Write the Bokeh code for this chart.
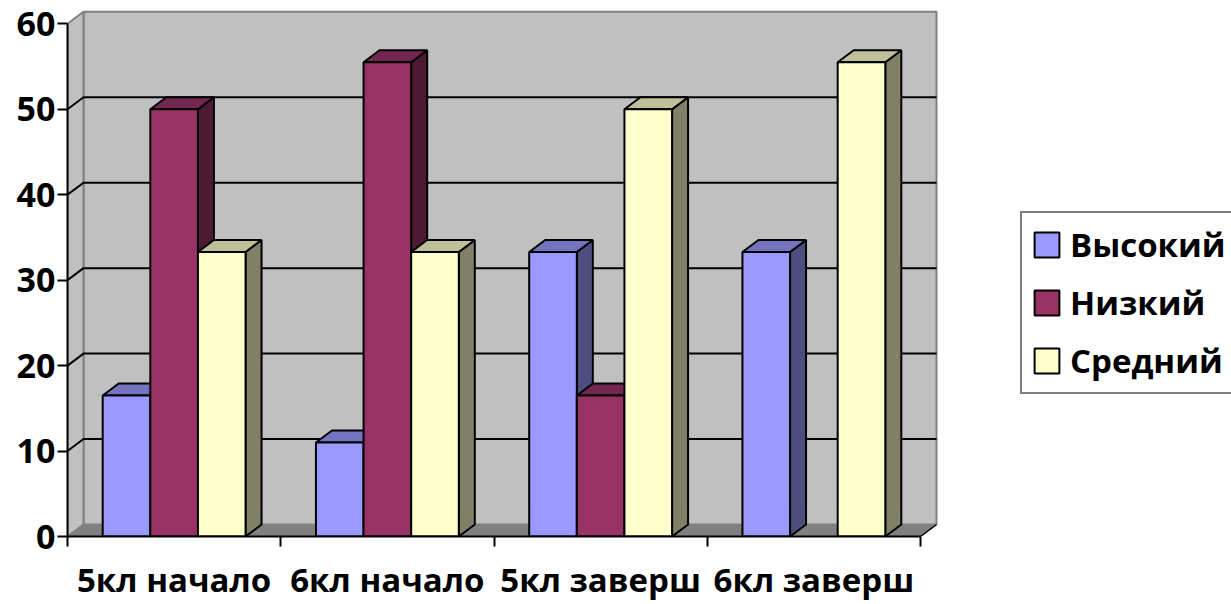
from bokeh.plotting import figure
from bokeh.embed import file_html
from bokeh.resources import INLINE
from bokeh.models import FixedTicker, Legend, LegendItem, Range1d

categories = ["5кл начало", "6кл начало", "5кл заверш", "6кл заверш"]
series_names = ["Высокий", "Низкий", "Средний"]
vysokiy = [16.5, 11, 33.3, 33.3]
nizkiy = [50, 55.5, 16.5, 0]
sredniy = [33.3, 33.3, 50, 55.5]
y_ticks = [0, 10, 20, 30, 40, 50, 60]

front_colors = ["#9999FF", "#993366", "#FFFFCC"]
top_colors = ["#7373BF", "#732650", "#BFBF99"]
side_colors = ["#4D4D80", "#4D1A33", "#808066"]

FONT = "Open Sans"
PX_X = 213.25
PX_Y = 8.545
DX = 16 / PX_X
DY = 12 / PX_Y
BAR = 0.2233
GAP = (1 - 3 * BAR) / 2
N = len(categories)
YMAX = y_ticks[-1]

p = figure(width=1231, height=604, output_backend="svg", toolbar_location=None,
           x_range=Range1d(0, 1164 / PX_X), y_range=Range1d(0, 536 / PX_Y),
           min_border_left=67, min_border_right=0, min_border_top=0, min_border_bottom=68)
p.outline_line_color = None
p.grid.visible = False
p.background_fill_color = "white"

# walls and floor
p.quad(left=[DX], right=[N + DX], bottom=[DY], top=[YMAX + DY],
       fill_color="#C0C0C0", line_color="#808080", line_width=2)
p.patch([0, DX, DX, 0], [0, DY, YMAX + DY, YMAX],
        fill_color="#C0C0C0", line_color="#808080", line_width=2)
p.patch([0, N, N + DX, DX], [0, 0, DY, DY], fill_color="#808080", line_color="#808080", line_width=1)
p.line([N, N + DX], [0, DY], line_color="black", line_width=1.5)

# gridlines
gl = [v for v in y_ticks if 0 < v < YMAX]
p.multi_line([[0, DX, N + DX] for _ in gl], [[v, v + DY, v + DY] for v in gl],
             line_color="black", line_width=2)

# bars
items = []
all_series = [vysokiy, nizkiy, sredniy]
for s, vals in enumerate(all_series):
    idx = [i for i, v in enumerate(vals) if v > 0]
    L = [i + GAP + s * BAR for i in idx]
    R = [x + BAR for x in L]
    T = [vals[i] for i in idx]
    side_x = [[r, r + DX, r + DX, r] for r in R]
    side_y = [[0, DY, t + DY, t] for t in T]
    top_x = [[l, r, r + DX, l + DX] for l, r in zip(L, R)]
    top_y = [[t, t, t + DY, t + DY] for t in T]
    p.patches(side_x, side_y, fill_color=side_colors[s], line_color="black", line_width=2)
    p.patches(top_x, top_y, fill_color=top_colors[s], line_color="black", line_width=2)
    r = p.quad(left=L, right=R, bottom=0, top=T, fill_color=front_colors[s],
               line_color="black", line_width=2)
    items.append(LegendItem(label=series_names[s], renderers=[r]))

# axes
yax = p.yaxis[0]
yax.ticker = FixedTicker(ticks=y_ticks)
yax.bounds = (0, YMAX)
yax.axis_line_color = "black"
yax.axis_line_width = 2
yax.major_tick_line_color = "black"
yax.major_tick_line_width = 2
yax.major_tick_out = 10
yax.major_tick_in = 0
yax.minor_tick_line_color = None
yax.major_label_standoff = 2
yax.major_label_text_font = FONT
yax.major_label_text_font_style = "bold"
yax.major_label_text_font_size = "34px"
yax.major_label_text_color = "black"

xax = p.xaxis[0]
centers = [i + 0.5 for i in range(N)]
xax.ticker = FixedTicker(ticks=centers, minor_ticks=list(range(N + 1)))
xax.major_label_overrides = {c: n for c, n in zip(centers, categories)}
xax.bounds = (0, N)
xax.axis_line_color = "black"
xax.axis_line_width = 2
xax.major_tick_line_color = None
xax.major_tick_out = 0
xax.major_tick_in = 0
xax.minor_tick_line_color = "black"
xax.minor_tick_line_width = 2
xax.minor_tick_out = 10
xax.minor_tick_in = 0
xax.major_label_standoff = 10
xax.major_label_text_font = FONT
xax.major_label_text_font_style = "bold"
xax.major_label_text_font_size = "33px"
xax.major_label_text_color = "black"

legend = Legend(items=items, location=(953, 142), orientation="vertical",
                glyph_width=31, glyph_height=31, label_standoff=8, label_width=170,
                label_height=25, spacing=13, padding=9, margin=0,
                border_line_color="black", border_line_width=2,
                background_fill_color="white", background_fill_alpha=1,
                label_text_font=FONT, label_text_font_style="bold",
                label_text_font_size="33px", label_text_color="black")
p.add_layout(legend, "center")

open("out.html", "w").write(file_html(p, INLINE))
